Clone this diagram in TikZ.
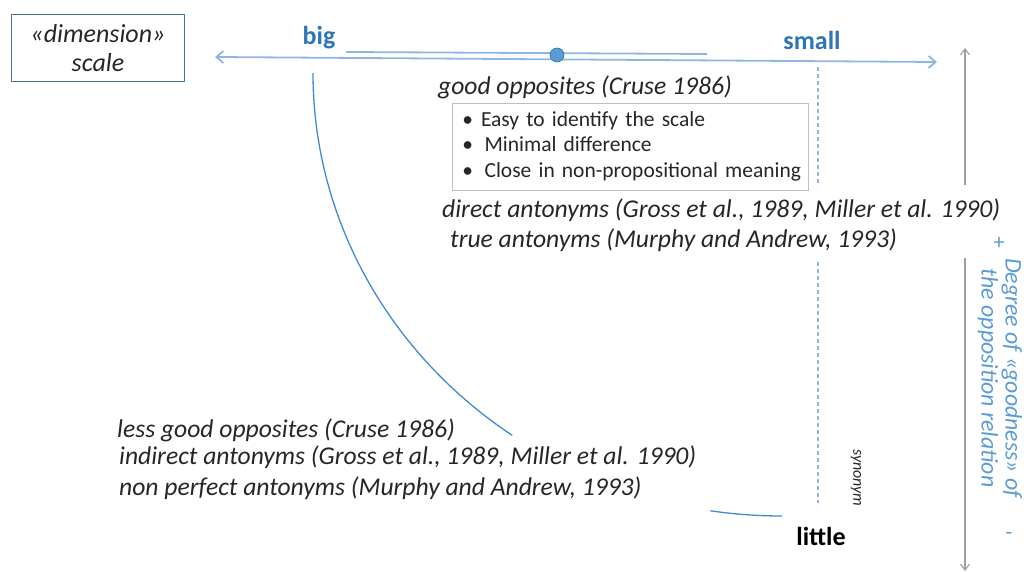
\documentclass[tikz,border=0pt]{standalone}
\usepackage{fontspec}
\setmainfont{Carlito}
\usetikzlibrary{arrows.meta, positioning, calc}

\definecolor{axisblue}{HTML}{8DB7E2}
\definecolor{labelblue}{HTML}{2E75B6}
\definecolor{degblue}{HTML}{5B9BD5}
\definecolor{curveblue}{HTML}{3F8BD6}
\definecolor{boxedge}{HTML}{41719C}
\definecolor{inkgray}{HTML}{262626}

\begin{document}
\begin{tikzpicture}[
    x=1pt, y=-1pt,
    dimbox/.style={rectangle, draw=boxedge, thick, minimum width=173pt, minimum height=67pt, align=center, font=\fontsize{26}{29}\selectfont\itshape, text=inkgray},
    listbox/.style={rectangle, draw=gray!50, semithick, text width=336pt, inner xsep=10pt, minimum height=87pt, align=left, anchor=north west, font=\fontsize{21.5}{25.5}\selectfont, text=inkgray},
    note/.style={font=\fontsize{25.6}{30}\selectfont\itshape, text=inkgray, inner sep=0pt},
    pole/.style={font=\fontsize{26}{28}\selectfont\bfseries, text=labelblue},
    axis/.style={axisblue, line width=1.8pt},
    guide/.style={axisblue, line width=1.2pt, dash pattern=on 4pt off 3pt},
    curve/.style={curveblue, line width=1.3pt},
    scalearrow/.style={gray!75, line width=1.1pt, -{Straight Barb[length=6pt,width=9pt]}},
    dot/.style={circle, fill=degblue, draw=labelblue, line width=0.6pt, minimum size=14pt, inner sep=0pt}
  ]
  \useasboundingbox (0,0) rectangle (1024,572);

  % ---- TOP: scale big -- small ----
  \node[dimbox] (dim) at (98,48) {«dimension»\\scale};

  \coordinate (axl) at (215,57);
  \coordinate (axr) at (937,62);
  \coordinate (up1) at (346,52);
  \coordinate (up2) at (707,54);
  \draw[axis, {Straight Barb[length=7pt,width=12pt]}-{Straight Barb[length=7pt,width=12pt]}] (axl) -- (axr);
  \draw[axis] (up1) -- (up2);
  \node[dot] (mid) at (557,55) {};

  \node[pole] (big) at (319,38) {big};
  \node[pole] (small) at (812,40) {small};

  % ---- good opposites ----
  \node[note] (good) at (585,87) {good opposites (Cruse 1986)};
  \node[listbox] (crit) at (452,103) {%
    \begin{tabular}{@{}l@{\hspace{8pt}}l@{}}
      • & Easy to identify the scale\\
      • & \,Minimal difference\\
      • & \,Close in non-propositional meaning
    \end{tabular}};
  \node[note, anchor=west] (direct) at (442,210) {direct antonyms (Gross et al., 1989, Miller et al. 1990)};
  \node[note, anchor=west] (true) at (450,240) {true antonyms (Murphy and Andrew, 1993)};

  % ---- less good opposites ----
  \node[note, anchor=west] (lessgood) at (117,430) {less good opposites (Cruse 1986)};
  \node[note, anchor=west] (indirect) at (119,457) {indirect antonyms (Gross et al., 1989, Miller et al. 1990)};
  \node[note, anchor=west] (nonperf) at (119,488) {non perfect antonyms (Murphy and Andrew, 1993)};

  \node[font=\fontsize{26}{28}\selectfont\bfseries, text=black] (little) at (821,536) {little};

  % arc big -> little (broken by the texts)
  \coordinate (arctop) at (313,73);
  \coordinate (arcbot) at (782,516);
  \draw[curve] (arctop) arc[start angle=180, end angle=125.1, x radius=469, y radius=443];
  \draw[curve] (arcbot) arc[start angle=90, end angle=98.8, x radius=469, y radius=443];

  % synonym guide small -> little
  \coordinate (syn1) at (818,67);
  \coordinate (syn2) at (818,185);
  \coordinate (syn3) at (818,262);
  \coordinate (syn4) at (818,503);
  \draw[guide] (syn1) -- (syn2);
  \draw[guide] (syn3) -- (syn4);
  \node[rotate=-90, font=\fontsize{16}{18}\selectfont\itshape, text=inkgray] (syn) at (856,478) {synonym};

  % ---- RIGHT: degree of goodness ----
  \coordinate (gtop) at (965,48);
  \coordinate (gmid1) at (965,185);
  \coordinate (gmid2) at (965,258);
  \coordinate (gbot) at (965,571);
  \draw[scalearrow] (gmid1) -- (gtop);
  \draw[scalearrow] (gmid2) -- (gbot);

  \node[text=degblue, font=\fontsize{22}{24}\selectfont] (plus) at (999,243) {+};
  \node[text=degblue, font=\fontsize{22}{24}\selectfont] (minus) at (1009,536) {-};
  \node[rotate=-90, align=center, text=degblue, font=\fontsize{23.8}{24}\selectfont\itshape] (degree) at (1000,378) {Degree of «goodness» of\\the opposition relation};
\end{tikzpicture}
\end{document}
